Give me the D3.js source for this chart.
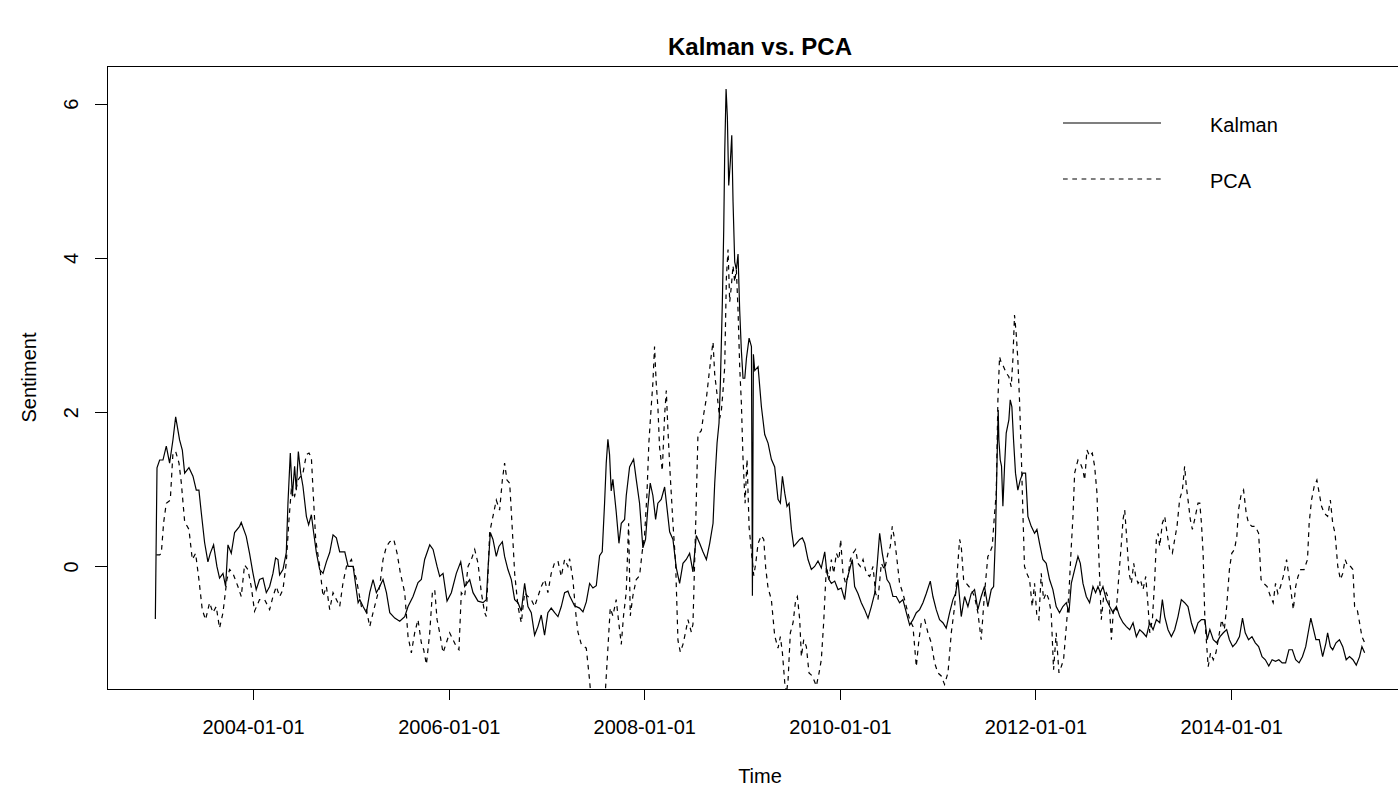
<!DOCTYPE html>
<html>
<head>
<meta charset="utf-8">
<script src="https://cdn.jsdelivr.net/npm/d3@7"></script>
<style>
  body { margin: 0; background: #fff; }
  svg { display: block; font-family: "Liberation Sans", Arial, sans-serif; }
</style>
</head>
<body>
<div id="chart"></div>
<script>
// Weekly sentiment index, time as decimal years
const kalmanTime = [
  2003.000,2003.017,2003.044,2003.078,2003.112,2003.146,2003.180,2003.208,2003.248,2003.276,
  2003.300,2003.344,2003.385,2003.419,2003.446,2003.470,2003.504,2003.538,2003.562,2003.596,
  2003.630,2003.657,2003.692,2003.719,2003.743,2003.777,2003.811,2003.862,2003.879,2003.930,
  2003.964,2003.998,2004.032,2004.066,2004.101,2004.135,2004.169,2004.203,2004.230,2004.254,
  2004.271,2004.305,2004.339,2004.356,2004.380,2004.401,2004.424,2004.441,2004.462,2004.486,
  2004.509,2004.544,2004.567,2004.595,2004.618,2004.646,2004.680,2004.714,2004.748,2004.782,
  2004.816,2004.850,2004.884,2004.936,2004.970,2005.021,2005.072,
  2005.089,2005.123,2005.157,2005.191,2005.225,2005.259,2005.293,2005.327,2005.362,2005.396,
  2005.447,2005.498,2005.549,2005.583,2005.634,2005.685,2005.719,2005.753,2005.805,2005.839,
  2005.880,2005.907,2005.941,2005.982,2006.026,2006.077,2006.122,2006.162,2006.214,2006.248,
  2006.299,2006.350,2006.384,2006.401,2006.425,2006.452,2006.486,2006.513,2006.548,2006.571,
  2006.605,2006.640,2006.674,2006.708,2006.742,2006.776,2006.810,2006.844,2006.878,2006.912,
  2006.946,2006.980,2007.014,2007.048,2007.083,2007.117,2007.151,2007.185,2007.219,
  2007.236,2007.287,2007.338,2007.373,2007.407,2007.441,2007.475,2007.509,2007.543,2007.570,
  2007.594,2007.611,2007.628,2007.645,2007.662,2007.679,2007.696,2007.713,2007.741,2007.765,
  2007.799,2007.816,2007.850,2007.891,2007.918,2007.952,2007.986,2008.013,2008.037,2008.061,
  2008.088,2008.116,2008.139,2008.173,2008.208,2008.231,2008.259,2008.293,2008.327,2008.361,
  2008.395,2008.429,2008.463,2008.497,2008.531,2008.565,2008.599,2008.634,2008.668,2008.702,
  2008.719,2008.743,2008.763,2008.777,2008.797,2008.811,2008.821,2008.835,2008.848,2008.862,
  2008.879,2008.893,2008.906,2008.923,2008.940,2008.957,2008.974,2008.991,2009.008,2009.026,
  2009.043,2009.070,2009.094,2009.104,2009.114,2009.128,2009.162,2009.196,2009.230,2009.264,
  2009.298,2009.332,2009.366,
  2009.390,2009.411,2009.435,2009.458,2009.479,2009.503,2009.527,2009.554,2009.588,2009.615,
  2009.639,2009.673,2009.707,2009.741,2009.775,2009.809,2009.844,2009.867,2009.888,2009.912,
  2009.946,2009.980,2010.014,2010.048,2010.072,2010.099,2010.126,2010.150,2010.184,2010.218,
  2010.252,2010.287,2010.321,2010.355,2010.379,2010.406,2010.433,2010.457,2010.481,2010.508,
  2010.542,2010.576,2010.610,2010.644,2010.679,2010.713,2010.747,2010.781,2010.815,2010.849,
  2010.883,2010.924,2010.951,2010.985,2011.019,2011.053,2011.087,2011.122,2011.156,2011.183,
  2011.207,2011.241,2011.275,2011.309,2011.343,2011.377,2011.411,2011.445,2011.479,2011.513,
  2011.548,2011.572,2011.592,2011.606,2011.619,2011.626,2011.640,2011.653,2011.667,2011.684,
  2011.701,2011.728,2011.742,2011.759,2011.776,2011.796,2011.820,2011.844,2011.871,2011.899,
  2011.923,2011.957,2011.991,2012.015,2012.042,2012.076,2012.110,2012.144,2012.178,2012.212,
  2012.246,2012.280,2012.315,2012.342,2012.366,2012.400,2012.434,2012.458,2012.485,2012.519,
  2012.553,2012.587,2012.614,2012.638,2012.662,2012.689,2012.723,2012.758,2012.792,2012.826,
  2012.860,2012.894,2012.928,2012.962,2012.996,2013.030,2013.064,2013.098,2013.132,2013.166,
  2013.201,2013.235,2013.269,2013.296,2013.320,2013.354,2013.388,2013.422,2013.456,2013.490,
  2013.524,2013.558,2013.593,2013.627,2013.661,
  2013.696,2013.731,2013.755,2013.782,2013.817,2013.851,2013.886,2013.920,2013.954,2013.982,
  2014.016,2014.051,2014.085,2014.116,2014.144,2014.178,2014.213,2014.247,2014.281,2014.316,
  2014.350,2014.385,2014.419,2014.454,2014.488,2014.522,2014.557,2014.591,2014.626,2014.660,
  2014.695,2014.729,2014.763,2014.788,2014.815,2014.843,2014.867,2014.901,2014.936,2014.970,
  2014.987,2015.015,2015.039,2015.073,2015.108,2015.142,2015.177,2015.211,2015.246,2015.280,
  2015.314,2015.338,2015.366
];
const kalmanValue = [
  -0.68,1.28,1.38,1.38,1.56,1.34,1.64,1.94,1.64,1.51,
  1.21,1.28,1.17,0.99,0.99,0.70,0.31,0.06,0.17,0.28,
  0.00,-0.15,-0.09,-0.26,0.28,0.17,0.44,0.52,0.57,0.39,
  0.17,-0.08,-0.30,-0.17,-0.15,-0.34,-0.26,-0.09,0.11,0.09,
  -0.11,-0.04,0.18,0.82,1.47,0.91,1.30,0.99,1.49,1.21,
  1.04,0.65,0.54,0.67,0.44,0.18,-0.04,-0.09,0.06,0.18,
  0.41,0.37,0.19,0.19,0.00,0.00,-0.47,
  -0.43,-0.52,-0.60,-0.34,-0.17,-0.34,-0.26,-0.17,-0.34,-0.60,
  -0.67,-0.71,-0.65,-0.52,-0.39,-0.21,-0.17,0.09,0.28,0.22,
  0.00,-0.13,-0.09,-0.45,-0.34,-0.09,0.06,-0.26,-0.17,-0.34,
  -0.45,-0.47,-0.43,-0.04,0.44,0.35,0.13,0.26,0.32,0.13,
  -0.04,-0.17,-0.43,-0.47,-0.58,-0.22,-0.52,-0.60,-0.89,-0.78,
  -0.63,-0.89,-0.60,-0.54,-0.60,-0.65,-0.52,-0.34,-0.32,
  -0.38,-0.51,-0.54,-0.59,-0.46,-0.22,-0.28,-0.25,0.14,0.19,
  0.82,1.34,1.65,1.45,0.98,1.13,0.92,0.71,0.30,0.56,
  0.61,0.92,1.29,1.39,1.13,0.82,0.24,0.35,0.77,1.08,
  0.92,0.61,0.82,0.87,1.03,0.77,0.45,0.35,-0.02,-0.22,
  0.04,0.09,0.17,-0.07,0.40,0.30,0.19,0.09,0.30,0.56,
  1.08,1.60,1.86,2.39,3.43,4.37,5.36,6.19,5.83,4.94,
  5.26,5.59,4.73,3.95,3.85,4.05,3.32,2.80,2.44,2.44,
  2.70,2.96,2.85,-0.38,2.75,2.54,2.59,2.07,1.71,1.60,
  1.39,1.29,0.87,
  0.82,1.17,0.95,0.78,0.82,0.48,0.26,0.30,0.35,0.37,
  0.30,0.09,-0.04,0.00,0.07,-0.02,0.19,-0.09,-0.17,-0.22,
  -0.19,-0.30,-0.28,-0.43,-0.17,-0.04,0.09,-0.26,-0.35,-0.47,
  -0.56,-0.67,-0.52,-0.35,0.00,0.43,0.17,0.00,-0.17,-0.22,
  -0.39,-0.39,-0.47,-0.43,-0.60,-0.76,-0.69,-0.60,-0.56,-0.47,
  -0.35,-0.19,-0.39,-0.56,-0.69,-0.73,-0.80,-0.60,-0.43,-0.35,
  -0.17,-0.65,-0.39,-0.52,-0.35,-0.30,-0.56,-0.39,-0.26,-0.52,
  -0.30,-0.26,0.43,1.30,2.03,1.64,1.38,1.30,0.78,1.30,
  1.73,1.90,2.16,2.07,1.64,1.21,0.99,1.12,1.21,1.21,
  0.65,0.52,0.43,0.48,0.30,0.09,0.04,-0.17,-0.30,-0.52,
  -0.60,-0.52,-0.47,-0.60,-0.22,-0.04,0.13,0.04,-0.22,-0.39,
  -0.47,-0.26,-0.34,-0.26,-0.34,-0.26,-0.43,-0.52,-0.60,-0.52,
  -0.65,-0.73,-0.78,-0.82,-0.73,-0.91,-0.82,-0.86,-0.91,-0.73,
  -0.82,-0.69,-0.73,-0.43,-0.65,-0.82,-0.91,-0.82,-0.65,-0.43,
  -0.47,-0.52,-0.73,-0.86,-0.73,
  -0.69,-0.69,-0.95,-0.82,-0.95,-0.99,-0.91,-0.86,-0.82,-0.95,
  -1.04,-0.99,-0.91,-0.67,-0.86,-0.95,-0.91,-0.99,-1.04,-1.17,
  -1.21,-1.29,-1.21,-1.23,-1.21,-1.25,-1.25,-1.08,-1.08,-1.21,
  -1.25,-1.17,-1.04,-0.86,-0.67,-0.82,-0.95,-0.95,-1.17,-0.99,
  -0.86,-1.04,-1.08,-0.99,-0.95,-1.04,-1.21,-1.17,-1.21,-1.28,
  -1.17,-1.04,-1.12
];

const pcaTime = [
  2003.010,2003.044,2003.061,2003.085,2003.112,2003.153,2003.180,2003.208,2003.242,2003.266,
  2003.300,2003.344,2003.378,2003.412,2003.446,2003.480,2003.514,2003.555,2003.589,2003.623,
  2003.657,2003.692,2003.732,2003.760,2003.794,2003.845,2003.879,2003.913,2003.947,2003.981,
  2004.015,2004.066,2004.118,2004.169,2004.203,2004.237,2004.271,2004.305,2004.339,2004.366,
  2004.390,2004.424,2004.458,2004.509,2004.544,2004.571,2004.595,2004.612,2004.639,2004.680,
  2004.714,2004.748,2004.782,2004.816,2004.850,2004.884,2004.918,2004.953,2005.004,2005.055,
  2005.106,2005.157,2005.191,2005.225,2005.259,2005.293,2005.327,2005.362,2005.396,2005.437,
  2005.471,2005.505,2005.549,2005.583,2005.617,2005.651,2005.685,2005.719,2005.743,2005.771,
  2005.805,2005.832,2005.856,2005.880,2005.907,2005.941,2005.975,2006.009,2006.043,2006.077,
  2006.104,2006.128,2006.162,2006.197,2006.231,2006.265,2006.299,2006.333,2006.367,2006.384,
  2006.418,2006.452,2006.486,2006.520,2006.548,2006.571,2006.595,2006.623,2006.646,2006.674,
  2006.708,2006.742,2006.776,2006.810,2006.844,2006.878,2006.912,2006.946,2006.980,2007.014,
  2007.048,2007.083,2007.117,2007.151,2007.185,2007.219,
  2007.236,2007.270,2007.298,2007.321,2007.356,2007.407,2007.441,2007.458,2007.492,2007.526,
  2007.577,2007.604,2007.628,2007.652,2007.679,2007.713,2007.741,2007.765,2007.788,2007.816,
  2007.840,2007.857,2007.884,2007.918,2007.952,2007.979,2008.003,2008.027,2008.047,2008.071,
  2008.088,2008.105,2008.122,2008.139,2008.156,2008.184,2008.208,2008.225,2008.242,2008.265,
  2008.293,2008.320,2008.344,2008.368,2008.395,2008.422,2008.446,2008.480,2008.497,2008.524,
  2008.548,2008.582,2008.606,2008.634,2008.661,2008.685,2008.702,2008.719,2008.743,2008.770,
  2008.787,2008.804,2008.821,2008.838,2008.855,2008.872,2008.889,2008.906,2008.923,2008.940,
  2008.957,2008.974,2008.991,2009.008,2009.029,2009.049,2009.070,2009.094,2009.118,2009.138,
  2009.162,2009.196,2009.220,2009.240,2009.264,2009.298,2009.332,2009.366,
  2009.390,2009.411,2009.435,2009.452,2009.469,2009.492,2009.520,2009.547,2009.564,2009.588,
  2009.605,2009.629,2009.656,2009.683,2009.717,2009.758,2009.786,2009.809,2009.833,2009.861,
  2009.888,2009.912,2009.936,2009.963,2009.990,2010.007,2010.031,2010.058,2010.082,2010.106,
  2010.133,2010.160,2010.184,2010.208,2010.236,2010.270,2010.304,2010.338,2010.365,2010.389,
  2010.423,2010.457,2010.491,2010.515,2010.535,2010.559,2010.583,2010.610,2010.644,2010.679,
  2010.713,2010.747,2010.781,2010.808,2010.832,2010.866,2010.900,2010.934,2010.968,2011.002,
  2011.036,2011.070,2011.105,2011.139,2011.173,2011.197,2011.224,2011.241,2011.265,2011.292,
  2011.319,2011.343,2011.377,2011.411,2011.445,2011.479,2011.513,
  2011.531,2011.558,2011.582,2011.599,2011.616,2011.633,2011.650,2011.674,2011.701,2011.728,
  2011.752,2011.769,2011.786,2011.803,2011.820,2011.837,2011.854,2011.871,2011.888,2011.912,
  2011.940,2011.967,2011.991,2012.015,2012.035,2012.059,2012.083,2012.110,2012.137,2012.161,
  2012.185,2012.212,2012.240,2012.263,2012.287,2012.315,2012.342,2012.366,2012.383,2012.400,
  2012.417,2012.434,2012.458,2012.485,2012.502,2012.526,2012.553,2012.580,2012.604,2012.628,
  2012.648,2012.672,2012.696,2012.723,2012.751,2012.775,2012.798,2012.826,2012.853,2012.877,
  2012.894,2012.911,2012.928,2012.955,2012.979,2013.003,2013.023,2013.047,2013.071,2013.098,
  2013.126,2013.150,2013.167,2013.194,2013.218,2013.235,2013.252,2013.269,2013.296,2013.320,
  2013.344,2013.371,2013.398,2013.422,2013.446,2013.473,2013.501,2013.524,2013.541,2013.558,
  2013.582,2013.603,2013.627,2013.661,
  2013.679,2013.696,2013.713,2013.731,2013.748,2013.765,2013.789,2013.817,2013.844,2013.868,
  2013.903,2013.930,2013.954,2013.982,2014.006,2014.034,2014.058,2014.075,2014.099,2014.127,
  2014.154,2014.178,2014.213,2014.247,2014.281,2014.306,2014.333,2014.368,2014.402,2014.430,
  2014.454,2014.478,2014.505,2014.533,2014.567,2014.591,2014.615,2014.636,2014.660,2014.684,
  2014.712,2014.746,2014.781,2014.798,2014.822,2014.850,2014.877,2014.901,2014.925,2014.953,
  2014.987,2015.015,2015.039,2015.063,2015.091,2015.118,2015.142,2015.166,2015.194,2015.221,
  2015.246,2015.263,2015.290,2015.314,2015.338,2015.366
];
const pcaValue = [
  0.15,0.15,0.17,0.57,0.82,0.86,1.47,1.49,1.34,1.08,
  0.58,0.48,0.09,0.17,-0.17,-0.56,-0.69,-0.47,-0.60,-0.52,
  -0.80,-0.60,-0.17,-0.04,-0.09,-0.26,-0.39,0.02,-0.04,-0.26,
  -0.58,-0.43,-0.43,-0.56,-0.39,-0.26,-0.39,-0.30,0.05,0.60,
  0.99,0.91,1.12,1.21,1.45,1.47,1.41,0.99,0.35,0.00,
  -0.39,-0.26,-0.56,-0.34,-0.43,-0.52,-0.21,0.00,0.09,-0.17,
  -0.52,-0.56,-0.78,-0.60,-0.43,-0.26,0.09,0.26,0.32,0.35,
  0.17,-0.09,-0.34,-0.91,-1.12,-0.86,-0.69,-0.99,-1.08,-1.27,
  -0.86,-0.34,-0.30,-0.69,-0.86,-1.12,-0.99,-0.86,-0.95,-1.04,
  -1.08,-0.34,-0.39,0.00,0.09,0.22,0.04,-0.34,-0.60,-0.65,
  0.44,0.65,0.86,0.73,1.12,1.34,1.12,1.08,0.57,-0.09,
  -0.52,-0.73,-0.34,-0.39,-0.43,-0.52,-0.39,-0.26,-0.17,-0.34,
  -0.09,0.05,0.07,-0.13,0.09,0.00,
  0.10,-0.17,-0.59,-0.85,-1.01,-1.06,-1.48,-1.75,-2.00,-2.00,
  -1.80,-1.58,-1.06,-0.54,-0.64,-0.43,-0.75,-1.01,-0.64,-0.33,
  0.56,-0.64,-0.38,-0.17,-0.12,0.19,0.40,0.92,1.60,2.07,
  2.38,2.85,2.38,2.07,1.55,1.24,1.97,2.28,1.76,1.18,
  0.56,0.04,-0.96,-1.11,-1.01,-0.85,-0.69,-0.85,-0.75,0.51,
  1.71,1.76,1.97,2.18,2.49,2.75,2.91,2.49,2.23,1.92,
  2.02,2.28,2.59,3.74,4.11,3.43,3.64,3.90,3.69,3.85,
  3.32,2.59,2.12,1.39,0.82,1.39,0.51,0.19,-0.12,0.04,
  0.30,0.40,0.35,-0.02,-0.28,-0.43,-0.90,-1.06,
  -0.91,-1.12,-1.51,-1.65,-1.47,-0.86,-0.73,-0.43,-0.39,-0.69,
  -1.17,-0.95,-1.04,-1.38,-1.42,-1.55,-1.38,-1.21,-0.73,0.00,
  -0.17,0.09,-0.09,0.17,0.09,0.35,-0.09,-0.22,-0.13,0.09,
  0.17,0.22,0.04,0.00,0.09,-0.09,-0.13,0.00,-0.35,-0.43,
  0.04,-0.04,0.17,0.26,0.52,0.35,0.09,-0.22,-0.35,-0.52,
  -0.69,-0.78,-1.30,-0.95,-0.73,-0.69,-0.86,-0.99,-1.25,-1.38,
  -1.42,-1.53,-1.38,-0.86,-0.52,-0.13,0.35,0.26,-0.17,-0.22,
  -0.26,-0.30,-0.39,-0.60,-0.95,-0.35,0.13,
  0.17,0.26,0.69,0.95,2.16,2.72,2.64,2.59,2.51,2.46,
  2.33,2.68,3.26,3.02,2.68,2.16,1.51,0.73,0.00,-0.09,
  -0.17,-0.52,-0.22,-0.65,-0.69,-0.09,-0.43,-0.34,-0.43,-0.60,
  -1.34,-0.86,-1.38,-1.30,-1.21,-0.78,-0.34,0.26,0.65,1.21,
  1.30,1.38,1.34,1.25,1.12,1.51,1.43,1.47,1.30,0.95,
  0.09,-0.69,-0.39,-0.34,-0.43,-0.95,-0.52,-0.56,-0.09,0.30,
  0.61,0.73,0.43,-0.09,-0.22,0.04,-0.13,-0.22,-0.17,-0.30,
  -0.13,-0.52,-0.86,-0.69,-0.17,0.35,0.43,0.26,0.56,0.65,
  0.43,0.22,0.17,0.35,0.52,0.87,0.99,1.30,1.04,0.87,
  0.61,0.48,0.61,0.82,
  0.82,0.56,0.17,-0.69,-0.99,-1.30,-1.12,-1.21,-1.12,-0.95,
  -0.69,-0.82,-0.52,-0.04,0.17,0.22,0.39,0.73,0.91,0.99,
  0.69,0.56,0.52,0.52,0.43,-0.17,-0.22,-0.26,-0.39,-0.47,
  -0.22,-0.35,-0.26,-0.13,0.09,-0.13,-0.35,-0.56,-0.26,-0.13,
  -0.04,-0.04,0.09,0.56,0.86,1.04,1.12,0.95,0.78,0.69,
  0.65,0.86,0.56,0.43,0.00,-0.17,-0.09,0.09,0.00,0.00,
  -0.04,-0.52,-0.56,-0.73,-0.91,-0.99
];

const seriesNames = ['Kalman', 'PCA'];
const xTickYears = [2004, 2006, 2008, 2010, 2012, 2014];
const yTicks = [0, 2, 4, 6];

const W = 1398, H = 787;
// plot box as R draws it; its right edge runs past the picture
const box = { left: 107, top: 66, right: 1413, bottom: 689 };

function yearToDate(t) {
    const yr = Math.floor(t);
    const a = Date.UTC(yr, 0, 1), b = Date.UTC(yr + 1, 0, 1);
    return new Date(a + (t - yr) * (b - a));
}

// R pads the data range by 4% on each side
function padRange(ext) {
    const d = (ext[1] - ext[0]) * 0.04;
    return [ext[0] - d, ext[1] + d];
}

const kalman = kalmanTime.map((t, i) => ({ date: yearToDate(t), value: kalmanValue[i] }));
const pca = pcaTime.map((t, i) => ({ date: yearToDate(t), value: pcaValue[i] }));

const x = d3.scaleUtc()
    .domain(padRange(d3.extent(kalmanTime)).map(yearToDate))
    .range([box.left, box.right]);

const y = d3.scaleLinear()
    .domain(padRange(d3.extent(kalmanValue)))
    .range([box.bottom, box.top]);

const svg = d3.select('#chart').append('svg')
    .attr('width', W)
    .attr('height', H);

svg.append('defs').append('clipPath')
    .attr('id', 'plot-clip')
    .append('rect')
    .attr('x', box.left)
    .attr('y', box.top)
    .attr('width', box.right - box.left)
    .attr('height', box.bottom - box.top);

// Title
svg.append('text')
    .attr('x', (box.left + box.right) / 2)
    .attr('y', 55)
    .attr('text-anchor', 'middle')
    .attr('font-size', '24px')
    .attr('font-weight', 'bold')
    .text('Kalman vs. PCA');

// Lines
const line = d3.line()
    .x(d => x(d.date))
    .y(d => y(d.value));

const plot = svg.append('g').attr('clip-path', 'url(#plot-clip)');

plot.append('path')
    .datum(kalman)
    .attr('fill', 'none')
    .attr('stroke', '#000')
    .attr('stroke-width', 1.2)
    .attr('d', line);

plot.append('path')
    .datum(pca)
    .attr('fill', 'none')
    .attr('stroke', '#000')
    .attr('stroke-width', 1.2)
    .attr('stroke-dasharray', '4.7,4.6')
    .attr('d', line);

// Box
svg.append('rect')
    .attr('x', box.left)
    .attr('y', box.top)
    .attr('width', box.right - box.left)
    .attr('height', box.bottom - box.top)
    .attr('fill', 'none')
    .attr('stroke', '#000')
    .attr('shape-rendering', 'crispEdges');

// X axis
const xAxis = svg.append('g')
    .attr('transform', `translate(0,${box.bottom})`)
    .call(d3.axisBottom(x)
        .tickValues(xTickYears.map(yearToDate))
        .tickFormat(d3.utcFormat('%Y-%m-%d'))
        .tickSize(11)
        .tickPadding(20));
xAxis.select('.domain').remove();
xAxis.selectAll('line').attr('stroke', '#000').attr('shape-rendering', 'crispEdges');
xAxis.selectAll('text')
    .attr('fill', '#000')
    .attr('font-size', '20px')
    .attr('font-family', '"Liberation Sans", Arial, sans-serif');

// Y axis, labels parallel to the axis like R
const yAxis = svg.append('g')
    .attr('transform', `translate(${box.left},0)`)
    .call(d3.axisLeft(y).tickValues(yTicks).tickSize(12));
yAxis.select('.domain').remove();
yAxis.selectAll('line').attr('stroke', '#000').attr('shape-rendering', 'crispEdges');
yAxis.selectAll('text')
    .attr('x', 0)
    .attr('dy', 0)
    .attr('text-anchor', 'middle')
    .attr('transform', 'translate(-29,0) rotate(-90)')
    .attr('fill', '#000')
    .attr('font-size', '20px')
    .attr('font-family', '"Liberation Sans", Arial, sans-serif');

// Axis titles
svg.append('text')
    .attr('x', (box.left + box.right) / 2)
    .attr('y', 783)
    .attr('text-anchor', 'middle')
    .attr('font-size', '20px')
    .text('Time');

svg.append('text')
    .attr('transform', `translate(36,${(box.top + box.bottom) / 2}) rotate(-90)`)
    .attr('text-anchor', 'middle')
    .attr('font-size', '20px')
    .text('Sentiment');

// Legend
const legend = svg.append('g');
const legendRows = [
    { name: seriesNames[0], dash: null, y: 123 },
    { name: seriesNames[1], dash: '4.7,4.6', y: 179 }
];
legendRows.forEach(r => {
    legend.append('line')
        .attr('x1', 1063).attr('x2', 1161)
        .attr('y1', r.y).attr('y2', r.y)
        .attr('stroke', '#000')
        .attr('stroke-width', 1.2)
        .attr('stroke-dasharray', r.dash);
    legend.append('text')
        .attr('x', 1210)
        .attr('y', r.y + 9)
        .attr('font-size', '20px')
        .text(r.name);
});
</script>
</body>
</html>
